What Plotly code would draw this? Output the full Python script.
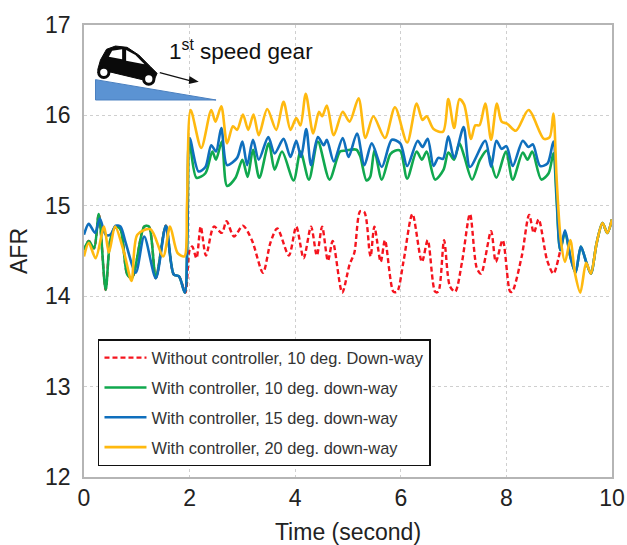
import plotly.graph_objects as go

# ---- data ----
t_yellow = [0,.09,.22,.38,.47,.59,.76,.90,1.01,1.26,1.50,1.63,1.77,1.90,1.95,2.02,2.22,2.41,2.49,2.60,2.71,2.82,2.90,3.01,3.11,3.21,3.31,3.47,3.64,3.78,3.91,4.02,4.10,4.20,4.34,4.45,4.51,4.60,4.73,4.90,5.03,5.20,5.33,5.48,5.70,5.89,6.12,6.30,6.41,6.49,6.62,6.80,6.90,7.01,7.11,7.20,7.33,7.41,7.49,7.60,7.71,7.82,7.91,8.01,8.18,8.42,8.71,8.82,8.89,8.95,9.03,9.11,9.21,9.30,9.40,9.51,9.60,9.71,9.82,9.91,10]
afr_yellow = [14.44,14.59,14.42,14.77,14.48,14.77,14.48,14.17,14.68,14.74,14.44,14.77,14.48,14.44,15.0,16.06,15.64,16.06,15.93,16.1,15.69,15.88,15.84,16.01,15.84,16.01,15.78,16.07,15.84,16.15,15.84,15.97,15.89,16.24,15.8,16.04,15.99,16.11,15.78,16.04,15.93,16.19,15.75,15.99,15.75,16.09,15.70,16.13,15.95,15.99,15.85,15.82,16.18,15.86,16.18,16.12,15.74,15.89,15.89,16.13,15.73,16.13,15.93,15.91,15.83,16.06,15.74,15.76,16.02,15.31,14.62,14.38,14.62,14.25,14.04,14.37,14.25,14.59,14.81,14.70,14.85]

t_blue = [0,.09,.21,.30,.41,.50,.60,.69,.79,.98,1.14,1.36,1.55,1.70,1.80,1.91,1.96,2.0,2.17,2.30,2.41,2.50,2.60,2.71,2.90,3.0,3.09,3.2,3.31,3.49,3.61,3.78,3.91,4.02,4.11,4.21,4.30,4.43,4.54,4.60,4.73,4.90,5.01,5.17,5.31,5.45,5.64,5.83,5.99,6.12,6.32,6.41,6.51,6.62,6.71,6.80,6.90,7.01,7.19,7.31,7.60,7.71,7.81,7.91,8.0,8.12,8.31,8.42,8.50,8.64,8.78,8.89,8.95,9.02,9.11,9.21,9.31,9.41,9.51,9.60,9.71,9.82,9.91,10]
afr_blue = [14.68,14.80,14.70,14.86,14.68,14.68,14.78,14.77,14.59,14.26,14.66,14.20,14.78,14.24,14.22,14.04,14.77,15.75,15.38,15.43,15.67,15.60,15.86,15.45,15.53,15.71,15.45,15.73,15.51,15.76,15.58,15.74,15.54,15.72,15.54,15.85,15.45,15.76,15.67,15.73,15.49,15.75,15.54,15.80,15.45,15.69,15.43,15.73,15.69,15.44,15.72,15.65,15.74,15.44,15.53,15.52,15.77,15.53,15.87,15.43,15.72,15.43,15.72,15.63,15.66,15.44,15.72,15.65,15.68,15.44,15.47,15.71,15.14,14.51,14.73,14.44,14.26,14.55,14.38,14.25,14.59,14.81,14.70,14.85]

t_green = [0,.09,.19,.28,.41,.50,.60,.69,.82,.91,1.14,1.23,1.36,1.55,1.70,1.80,1.91,1.96,2.0,2.13,2.30,2.43,2.50,2.61,2.71,2.87,3.0,3.1,3.2,3.32,3.5,3.61,3.75,3.97,4.10,4.26,4.43,4.65,4.85,4.95,5.04,5.16,5.23,5.35,5.42,5.50,5.64,5.80,5.89,5.99,6.12,6.30,6.40,6.49,6.65,6.81,6.90,7.01,7.11,7.20,7.35,7.50,7.63,7.81,7.99,8.12,8.31,8.40,8.49,8.66,8.80,8.89,8.95,9.02,9.11,9.21,9.31,9.41,9.51,9.60,9.71,9.82,9.91,10]
afr_green = [14.51,14.61,14.53,14.91,14.07,14.63,14.77,14.74,14.24,14.20,14.77,14.77,14.20,14.78,14.24,14.22,14.04,14.77,15.70,15.31,15.36,15.60,15.51,15.71,15.22,15.31,15.51,15.32,15.62,15.31,15.69,15.40,15.60,15.28,15.60,15.29,15.71,15.29,15.60,15.61,15.62,15.62,15.55,15.28,15.32,15.61,15.29,15.57,15.61,15.61,15.30,15.60,15.51,15.60,15.29,15.40,15.59,15.51,15.69,15.55,15.29,15.51,15.61,15.31,15.60,15.29,15.59,15.51,15.60,15.29,15.36,15.58,15.07,14.51,14.71,14.44,14.26,14.55,14.38,14.25,14.59,14.81,14.70,14.85]

t_red = [0,.09,.19,.28,.41,.50,.60,.69,.82,.91,1.14,1.23,1.36,1.55,1.70,1.80,1.92,2.0,2.05,2.13,2.21,2.31,2.46,2.61,2.70,2.84,3.01,3.18,3.39,3.53,3.66,3.88,4.02,4.16,4.30,4.41,4.51,4.62,4.71,4.89,5.03,5.12,5.23,5.31,5.41,5.43,5.50,5.62,5.70,5.86,5.93,6.05,6.22,6.40,6.51,6.65,6.71,6.82,6.93,7.03,7.16,7.31,7.44,7.52,7.71,7.80,7.93,8.07,8.11,8.29,8.43,8.52,8.61,8.77,8.89,9.02]
afr_red = [14.51,14.61,14.53,14.91,14.07,14.63,14.77,14.74,14.24,14.20,14.77,14.77,14.20,14.78,14.24,14.22,14.04,14.51,14.55,14.42,14.77,14.45,14.77,14.70,14.83,14.66,14.78,14.62,14.26,14.59,14.75,14.45,14.77,14.42,14.77,14.45,14.77,14.39,14.61,14.04,14.35,14.48,14.94,14.93,14.48,14.44,14.77,14.38,14.62,14.05,14.05,14.38,14.91,14.38,14.62,14.05,14.05,14.62,14.11,14.05,14.38,14.91,14.31,14.25,14.72,14.38,14.62,14.05,14.05,14.44,14.90,14.70,14.85,14.40,14.25,14.51]

names = ["Without controller, 10 deg. Down-way", "With controller, 10 deg. down-way",
         "With controller, 15 deg. down-way", "With controller, 20 deg. down-way"]
x_ticks = [0, 2, 4, 6, 8, 10]
y_ticks = [12, 13, 14, 15, 16, 17]
annotation_text = "1<sup>st</sup> speed gear"

W, H = 627, 545
L, R, T, B = 83.5, 612, 25, 477
FONT = "Liberation Sans, Arial, sans-serif"
TXT = "#222222"

fig = go.Figure()
series = [(t_red, afr_red, "#f5141e", "dash"), (t_green, afr_green, "#10a84e", "solid"),
          (t_blue, afr_blue, "#0f6fbd", "solid"), (t_yellow, afr_yellow, "#ffb90f", "solid")]
for i, (t, a, c, d) in enumerate(series):
    fig.add_trace(go.Scatter(x=t, y=a, mode="lines", name=names[i], legendgroup=str(i),
                             line=dict(color=c, width=2.6 if d == "solid" else 2.4, dash="5px,3px" if d == "dash" else d,
                                       shape="spline", smoothing=0.8)))

def zp(zx, zy):
    # decorative icon position: picture pixels to paper fractions
    px, py = 70 + zx / 3, 10 + zy / 3
    return f"{(px - L) / (R - L):.4f},{(B - py) / (B - T):.4f}"

def poly(pts):
    return "M" + " L".join(zp(*p) for p in pts) + " Z"

def circ(cx, cy, r, **kw):
    return dict(type="circle", xref="paper", yref="paper",
                x0=(70 + (cx - r) / 3 - L) / (R - L), x1=(70 + (cx + r) / 3 - L) / (R - L),
                y0=(B - (10 + (cy + r) / 3)) / (B - T), y1=(B - (10 + (cy - r) / 3)) / (B - T), **kw)

shapes = [
    dict(type="path", xref="paper", yref="paper", path=poly([(75, 209), (75, 270), (437, 270)]),
         fillcolor="#5b93d3", line=dict(color="#4a80c0", width=1)),
    dict(type="path", xref="paper", yref="paper",
         path=poly([(82, 178), (90, 150), (108, 118), (135, 108), (170, 112), (205, 135), (240, 170), (260, 190), (250, 213),
                    (220, 210), (115, 185), (90, 195)]),
         fillcolor="#0a0a0a", line=dict(color="#0a0a0a", width=1)),
    dict(type="path", xref="paper", yref="paper", path=poly([(125, 122), (155, 118), (155, 148), (115, 140)]),
         fillcolor="white", line=dict(width=0)),
    dict(type="path", xref="paper", yref="paper", path=poly([(167, 120), (195, 135), (222, 163), (167, 152)]),
         fillcolor="white", line=dict(width=0)),
    circ(100, 187, 20, fillcolor="#0a0a0a", line=dict(width=0)),
    circ(100, 187, 11, fillcolor="white", line=dict(width=0)),
    circ(235, 207, 20, fillcolor="#0a0a0a", line=dict(width=0)),
    circ(235, 207, 11, fillcolor="white", line=dict(width=0)),
    dict(type="path", xref="paper", yref="paper", path="M" + zp(268, 188) + " L" + zp(358, 212),
         line=dict(color="#111111", width=1.2)),
    dict(type="path", xref="paper", yref="paper", path=poly([(357, 198), (385, 215), (355, 222)]),
         fillcolor="#111111", line=dict(width=0)),
]

fig.update_layout(
    width=W, height=H, autosize=False,
    margin=dict(l=L, r=W - R, t=T, b=H - B, pad=0, autoexpand=False),
    paper_bgcolor="white", plot_bgcolor="white",
    font=dict(family=FONT, color=TXT, size=23),
    shapes=shapes,
    legend=dict(x=(97.5 - L) / (R - L), y=(B - 339) / (B - T), xanchor="left", yanchor="top",
                bgcolor="white", bordercolor="#111111", borderwidth=1.5,
                font=dict(size=16.4, color="#333333"), tracegroupgap=5.5, itemwidth=42,
                traceorder="grouped"),
    annotations=[
        dict(xref="paper", yref="paper", x=(167 - L) / (R - L), y=(B - 50) / (B - T), text=annotation_text,
             showarrow=False, xanchor="left", yanchor="middle", font=dict(size=22.5, color="#111111")),
    ],
    xaxis=dict(range=[0, 10], tickvals=x_ticks, automargin=True, title=dict(text="Time (second)", standoff=15, font=dict(size=23)),
               showgrid=True, gridcolor="#cfcfcf", griddash="3px,3px", gridwidth=1, zeroline=False, ticklabelstandoff=0,
               showline=True, linecolor="#b5b5b5", linewidth=1.5, mirror=True, ticks="", tickfont=dict(size=23)),
    yaxis=dict(range=[12, 17], tickvals=y_ticks, automargin=True, title=dict(text="AFR", standoff=11, font=dict(size=23)),
               showgrid=True, gridcolor="#cfcfcf", griddash="3px,3px", gridwidth=1, zeroline=False, ticklabelstandoff=7,
               showline=True, linecolor="#b5b5b5", linewidth=1.5, mirror=True, ticks="", tickfont=dict(size=23)),
)
fig.write_html("out.html", post_script="document.body.style.margin='0';", config=dict(displayModeBar=False))
